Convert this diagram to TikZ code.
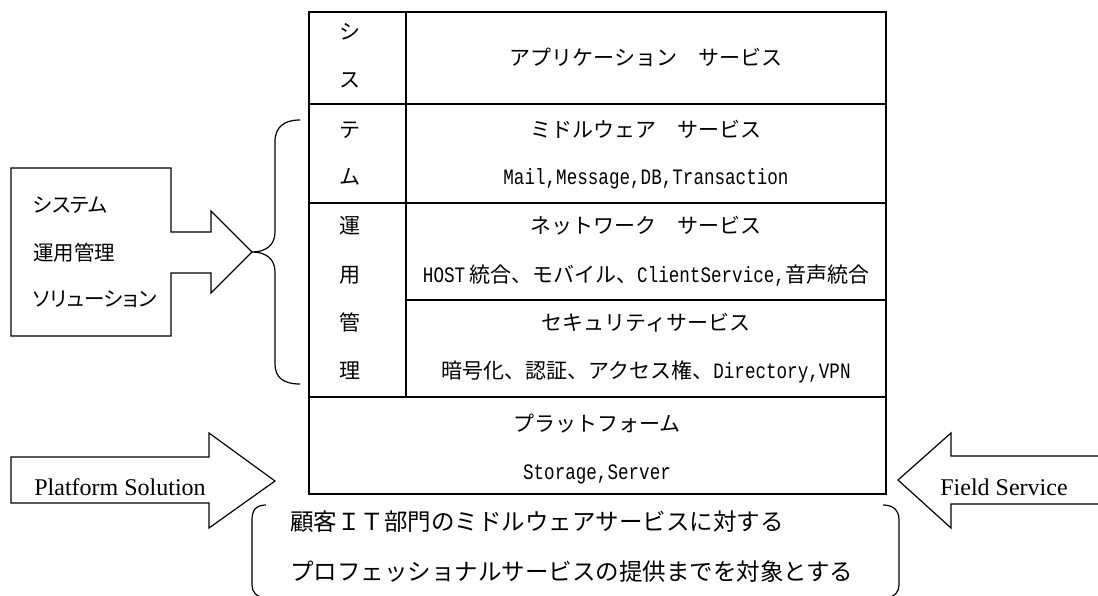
\documentclass[tikz,border=0pt]{standalone}
\usepackage{fontspec}
\setmainfont{Noto Sans CJK JP}
\newfontfamily\jp{Noto Sans CJK JP}
\newfontfamily\jpp[RawFeature=+palt]{Noto Sans CJK JP}
\newfontfamily\monoL[FakeStretch=0.8]{Liberation Mono}
\newfontfamily\serifL{Liberation Serif}
\tikzset{
  tbl/.style={line width=1.6pt},
  shp/.style={line width=1.2pt, line join=miter},
  txt/.style={inner sep=0pt, anchor=base, font=\jp\fontsize{21}{21}\selectfont},
  ltxt/.style={inner sep=0pt, anchor=base west, font=\jpp\fontsize{20.5}{21}\selectfont},
  btxt/.style={inner sep=0pt, anchor=base west, font=\jp\fontsize{23.5}{24}\selectfont},
  stxt/.style={inner sep=0pt, anchor=base, font=\serifL\fontsize{24}{24}\selectfont},
}
\begin{document}
\begin{tikzpicture}[x=1pt,y=-1pt]
\useasboundingbox (0,0) rectangle (1098,596);
\clip (0,0) rectangle (1098,596);
% table
\draw[tbl] (309,12) rectangle (886,494);
\draw[tbl] (406,12) -- (406,397);
\draw[tbl] (309,104) -- (886,104);
\draw[tbl] (309,203) -- (886,203);
\draw[tbl] (406,300) -- (886,300);
\draw[tbl] (309,397) -- (886,397);
% left column
\node[txt] (c1) at (350,40) {シ};
\node[txt] (c2) at (350,88) {ス};
\node[txt] (c3) at (350,138) {テ};
\node[txt] (c4) at (350,185) {ム};
\node[txt] (c5) at (350,234) {運};
\node[txt] (c6) at (350,282) {用};
\node[txt] (c7) at (350,330) {管};
\node[txt] (c8) at (350,378) {理};
% right column
\node[txt] (app) at (646,66) {アプリケーション　サービス};
\node[txt] (mid) at (646,138) {ミドルウェア　サービス};
\node[txt] (midd) at (646,185) {\monoL\fontsize{22}{22}\selectfont Mail,Message,DB,Transaction};
\node[txt] (net) at (646,234) {ネットワーク　サービス};
\node[txt] (netd) at (646,282) {{\monoL\fontsize{22}{22}\selectfont HOST\hspace{4pt}}統合、モバイル、{\monoL\fontsize{22}{22}\selectfont ClientService,}音声統合};
\node[txt] (sec) at (646,330) {セキュリティサービス};
\node[txt] (secd) at (646,378) {暗号化、認証、アクセス権、{\monoL\fontsize{22}{22}\selectfont Directory,VPN}};
\node[txt] (plt) at (597,431) {プラットフォーム};
\node[txt] (pltd) at (597,479) {\monoL\fontsize{22}{22}\selectfont Storage,Server};
% left box with arrow
\draw[shp] (11,168) -- (171,168) -- (171,232) -- (211,232) -- (211,211) -- (252,252)
  -- (211,293) -- (211,273) -- (171,273) -- (171,336) -- (11,336) -- cycle;
\node[ltxt] (l1) at (33,213) {システム};
\node[ltxt] (l2) at (33,261) {運用管理};
\node[ltxt] (l3) at (33,306) {ソリューション};
% brace
\draw[shp] (300,120) .. controls (284,120) and (275,127) .. (275,142) -- (275,232)
  .. controls (275,245) and (266,252) .. (252,252)
  .. controls (266,252) and (275,259) .. (275,272) -- (275,364)
  .. controls (275,378) and (284,384) .. (300,384);
% platform solution arrow
\draw[shp] (11,457) -- (209,457) -- (209,433) -- (275,481) -- (209,528) -- (209,503) -- (11,503) -- cycle;
\node[stxt] (ps) at (120,495) {Platform Solution};
% field service arrow
\draw[shp] (1110,456) -- (951,456) -- (951,433) -- (898,480) -- (951,528) -- (951,504) -- (1110,504);
\node[stxt] (fs) at (1004,495) {Field Service};
% bottom brackets
\draw[shp] (266,505) .. controls (256,505) and (252,510) .. (252,520) -- (252,585)
  .. controls (252,592) and (256,597) .. (266,598);
\draw[shp] (883,505) .. controls (893,505) and (899,510) .. (899,520) -- (899,585)
  .. controls (899,592) and (895,597) .. (886,598);
\node[btxt] (b1) at (290,530) {顧客ＩＴ部門のミドルウェアサービスに対する};
\node[btxt] (b2) at (290,580) {プロフェッショナルサービスの提供までを対象とする};
\end{tikzpicture}
\end{document}
